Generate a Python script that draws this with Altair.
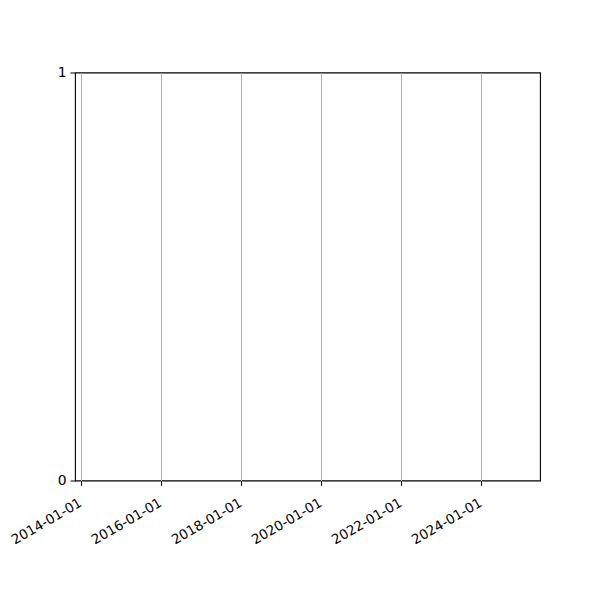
import altair as alt
import pandas as pd

# Data: the chart is empty (no series plotted)
dates = []
values = []
x_domain = ["2013-11-09", "2025-06-23"]
x_ticks = ["2014-01-01", "2016-01-01", "2018-01-01", "2020-01-01", "2022-01-01", "2024-01-01"]
y_domain = [0, 1]
y_ticks = [0, 1]

df = pd.DataFrame({"date": pd.to_datetime(pd.Series(dates, dtype="object")), "value": pd.Series(values, dtype="float")})

tick_dt = [alt.DateTime(year=int(t[:4]), month=int(t[5:7]), date=int(t[8:10])) for t in x_ticks]
dom_dt = [alt.DateTime(year=int(t[:4]), month=int(t[5:7]), date=int(t[8:10])) for t in x_domain]

chart = alt.Chart(df).mark_point().encode(
    x=alt.X("date:T",
            scale=alt.Scale(domain=dom_dt, nice=False),
            axis=alt.Axis(values=tick_dt, format="%Y-%m-%d", title=None,
                          labelAngle=330, labelAlign="right", labelBaseline="top",
                          labelOffset=-4, labelPadding=10,
                          grid=True, gridColor="#b0b0b0", gridWidth=1,
                          tickSize=5, tickColor="black", domain=False,
                          labelColor="black", labelFont="DejaVu Sans", labelFontSize=13.5)),
    y=alt.Y("value:Q",
            scale=alt.Scale(domain=y_domain, nice=False, zero=False),
            axis=alt.Axis(values=y_ticks, format="d", title=None, grid=False,
                          tickSize=5, tickColor="black", domain=False, labelPadding=4,
                          labelColor="black", labelFont="DejaVu Sans", labelFontSize=13.9)),
).properties(
    width=465, height=408,
    autosize=alt.AutoSizeParams(type="none"),
    padding={"left": 67, "top": 64.5, "right": 50, "bottom": 100},
).configure(
    background="white"
).configure_view(
    stroke="black", strokeWidth=1.1
)

chart.save("out.html", embed_options={"renderer": "svg", "actions": False})
